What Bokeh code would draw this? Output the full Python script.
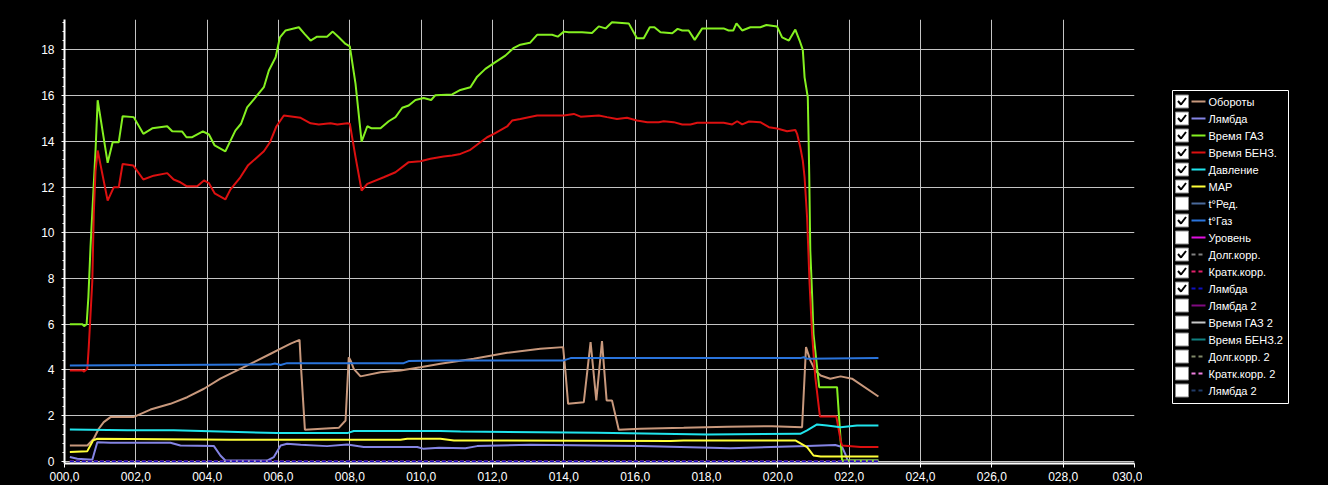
from bokeh.plotting import figure
from bokeh.layouts import row
from bokeh.models import Range1d, FixedTicker, SingleIntervalTicker, ColumnDataSource
from bokeh.core.properties import value
from bokeh.embed import file_html
from bokeh.resources import INLINE

# ---------------- data ----------------
x_ticks = [0, 2, 4, 6, 8, 10, 12, 14, 16, 18, 20, 22, 24, 26, 28, 30]
x_tick_labels = ["000,0", "002,0", "004,0", "006,0", "008,0", "010,0", "012,0", "014,0",
                 "016,0", "018,0", "020,0", "022,0", "024,0", "026,0", "028,0", "030,0"]

# Обороты
rpm_t = [0.15, 0.64, 0.82, 0.96, 1.10, 1.29, 1.93, 2.41, 2.97, 3.44, 3.91, 4.37, 4.84, 5.31,
         5.78, 6.06, 6.34, 6.59, 6.62, 6.74, 7.69, 7.88, 7.97, 8.02, 8.11, 8.30, 8.86, 9.42,
         9.98, 10.54, 11.47, 12.41, 13.34, 13.98, 14.05, 14.12, 14.56, 14.75, 14.91, 15.07,
         15.20, 15.35, 15.54, 16.15, 17.36, 18.58, 19.84, 20.68, 20.79, 20.91, 21.05, 21.20,
         21.47, 21.76, 22.08, 22.82]
rpm_v = [0.70, 0.70, 0.99, 1.43, 1.72, 1.94, 1.94, 2.27, 2.52, 2.81, 3.18, 3.62, 3.98, 4.34,
         4.71, 4.93, 5.15, 5.32, 4.42, 1.39, 1.47, 1.79, 4.56, 4.42, 4.05, 3.72, 3.90, 3.98,
         4.12, 4.27, 4.49, 4.75, 4.93, 5.00, 3.83, 2.52, 2.59, 5.22, 2.67, 5.26,
         2.67, 2.67, 1.39, 1.43, 1.47, 1.52, 1.54, 1.50, 5.00, 4.42, 3.98, 3.76,
         3.62, 3.72, 3.62, 2.84]

# Лямбда
lam_t = [0.15, 0.36, 0.78, 0.92, 1.29, 2.97, 3.25, 4.19, 4.37, 4.51, 5.68, 5.87, 6.06, 6.24,
         6.62, 7.36, 7.93, 8.39, 9.89, 10.07, 10.50, 11.24, 11.57, 13.06, 16.15, 18.67, 20.82,
         21.61, 21.80, 21.89, 21.96, 22.82]
lam_v = [0.19, 0.12, 0.07, 0.84, 0.82, 0.82, 0.70, 0.67, 0.26, 0.04, 0.04, 0.19, 0.70, 0.77,
         0.73, 0.67, 0.74, 0.63, 0.63, 0.55, 0.60, 0.58, 0.67, 0.73, 0.67, 0.58, 0.67,
         0.72, 0.63, 0.33, 0.04, 0.04]

# Время ГАЗ
gas_t = [0.15, 0.50, 0.55, 0.62, 0.67, 0.73, 0.80, 0.87, 0.93, 1.21, 1.35, 1.52, 1.63, 1.94,
         2.21, 2.46, 2.88, 3.02, 3.30, 3.42, 3.58, 3.88, 4.05, 4.21, 4.51, 4.79, 4.95, 5.12,
         5.31, 5.59, 5.73, 5.92, 6.04, 6.20, 6.57, 6.73, 6.90, 7.08, 7.36, 7.52, 7.69, 7.88,
         8.00, 8.16, 8.33, 8.49, 8.61, 8.86, 9.09, 9.28, 9.47, 9.65, 9.84, 10.07, 10.28, 10.40,
         10.87, 11.10, 11.38, 11.57, 11.80, 12.04, 12.36, 12.60, 12.78, 13.05, 13.25, 13.67,
         13.83, 14.00, 14.14, 14.51, 14.79, 14.98, 15.17, 15.35, 15.82, 16.05, 16.24, 16.41,
         16.54, 16.71, 17.04, 17.19, 17.32, 17.50, 17.67, 17.88, 18.48, 18.62, 18.75, 18.84,
         19.00, 19.23, 19.51, 19.68, 19.98, 20.12, 20.31, 20.49, 20.61, 20.70, 20.75, 20.84,
         20.86, 20.88, 20.91, 20.96, 21.00, 21.10, 21.16, 21.66, 21.71, 21.80, 22.82]
gas_v = [6.00, 6.00, 5.92, 6.00, 7.20, 9.40, 11.50, 13.60, 15.80, 13.06, 13.96, 13.96, 15.10, 15.06,
         14.33, 14.57, 14.66, 14.44, 14.43, 14.18, 14.18, 14.44, 14.30, 13.82, 13.56, 14.47, 14.77, 15.49,
         15.84, 16.37, 17.10, 17.68, 18.55, 18.85, 18.99, 18.70, 18.41, 18.58, 18.58, 18.80, 18.55, 18.26,
         18.15, 16.51, 13.99, 14.66, 14.57, 14.57, 14.88, 15.06, 15.47, 15.57, 15.81, 15.90, 15.81, 16.02,
         16.05, 16.25, 16.37, 16.83, 17.17, 17.42, 17.75, 18.09, 18.23, 18.31, 18.66, 18.66,
         18.58, 18.80, 18.77, 18.77, 18.74, 19.03, 18.94, 19.21, 19.16, 18.51, 18.51, 18.99,
         18.99, 18.77, 18.73, 18.92, 18.85, 18.85, 18.44, 18.94, 18.94, 18.85, 18.85, 19.16,
         18.85, 18.99, 18.99, 19.09, 19.02, 18.55, 18.41, 18.89, 18.41, 18.00, 16.80, 15.93,
         14.33, 12.58, 9.23, 7.33, 5.58, 4.12, 3.25, 3.25, 2.08, 0.04, 0.04]

# Время БЕНЗ.
pet_t = [0.15, 0.50, 0.55, 0.64, 0.68, 0.78, 0.82, 0.87, 0.93, 1.21, 1.38, 1.52, 1.63, 1.93,
         2.21, 2.50, 2.88, 3.06, 3.25, 3.42, 3.72, 3.91, 4.05, 4.21, 4.51, 4.65, 4.93, 5.14,
         5.59, 5.76, 5.94, 6.15, 6.62, 6.90, 7.13, 7.32, 7.46, 7.65, 7.93, 8.00, 8.16, 8.33,
         8.49, 8.95, 9.28, 9.65, 9.98, 10.26, 10.63, 10.87, 11.10, 11.38, 11.66, 11.85, 12.04,
         12.41, 12.55, 12.78, 13.25, 14.00, 14.28, 14.47, 14.98, 15.21, 15.49, 15.77, 16.05,
         16.34, 16.66, 16.80, 17.08, 17.32, 17.55, 17.74, 18.48, 18.72, 18.86, 19.00, 19.19,
         19.51, 19.75, 19.98, 20.26, 20.49, 20.54, 20.63, 20.70, 20.75, 20.82, 20.89, 20.96,
         21.05, 21.18, 21.64, 21.76, 21.80, 22.32, 22.82]
pet_v = [3.98, 3.98, 3.93, 4.05, 5.00, 7.90, 10.80, 12.70, 13.60, 11.41, 11.99, 11.99, 13.01, 12.94,
         12.33, 12.50, 12.61, 12.33, 12.21, 12.04, 12.04, 12.29, 12.17, 11.73, 11.46, 11.89, 12.43, 12.94,
         13.57, 13.96, 14.65, 15.13, 15.03, 14.79, 14.74, 14.77, 14.79, 14.74, 14.79, 14.77, 13.31, 11.85,
         12.14, 12.43, 12.65, 13.09, 13.13, 13.24, 13.34, 13.38, 13.45, 13.63, 13.96, 14.18, 14.33,
         14.65, 14.91, 14.98, 15.13, 15.13, 15.20, 15.08, 15.13, 15.06, 14.98, 15.03, 14.91,
         14.84, 14.84, 14.88, 14.84, 14.74, 14.74, 14.81, 14.81, 14.74, 14.88, 14.74, 14.87,
         14.84, 14.62, 14.56, 14.44, 14.50, 14.33, 13.74, 13.16, 12.43, 10.68, 7.77, 5.58,
         3.69, 1.97, 1.97, 0.92, 0.70, 0.63, 0.63]

# Давление
prs_t = [0.15, 1.76, 3.06, 5.12, 5.96, 7.93, 8.11, 10.54, 11.10, 14.93, 18.02, 20.63, 20.82,
         21.10, 21.38, 21.76, 22.22, 22.82]
prs_v = [1.40, 1.36, 1.36, 1.28, 1.24, 1.24, 1.33, 1.33, 1.31, 1.25, 1.18, 1.21, 1.36,
         1.62, 1.57, 1.50, 1.57, 1.57]

# MAP
map_t = [0.15, 0.64, 0.80, 0.92, 4.65, 9.42, 9.61, 10.54, 10.92, 16.99, 17.36, 20.49, 20.82,
         21.00, 21.20, 22.32, 22.82]
map_v = [0.41, 0.45, 0.92, 0.99, 0.95, 0.95, 0.99, 0.99, 0.92, 0.89, 0.92, 0.92, 0.63,
         0.26, 0.22, 0.22, 0.22]

# t°Газ
tg_t = [0.15, 5.78, 5.90, 6.06, 6.24, 9.51, 9.65, 10.54, 14.00, 14.19, 20.63, 20.73, 20.82, 22.82]
tg_v = [4.20, 4.24, 4.28, 4.22, 4.30, 4.30, 4.39, 4.42, 4.42, 4.52, 4.52, 4.56, 4.49, 4.52]

# Долг.корр., Кратк.корр., Лямбда (dashed) - all at zero
zero_t = [0.15, 22.82]
ltft_v = [0.0, 0.0]
stft_v = [0.0, 0.0]
lam2_v = [0.0, 0.0]

legend_labels = ["Обороты", "Лямбда", "Время ГАЗ", "Время БЕНЗ.", "Давление", "MAP", "t°Ред.",
                 "t°Газ", "Уровень", "Долг.корр.", "Кратк.корр.", "Лямбда", "Лямбда 2",
                 "Время ГАЗ 2", "Время БЕНЗ.2", "Долг.корр. 2", "Кратк.корр. 2", "Лямбда 2"]
legend_colors = ["#c8987c", "#8484e4", "#84f020", "#dc1010", "#20e4ec", "#ffff38", "#4a6a9c",
                 "#2a74dc", "#e010e0", "#808080", "#e0206a", "#1010c0", "#800a80",
                 "#c8c8c8", "#108080", "#808868", "#f080e0", "#203a66"]
legend_dashed = [False, False, False, False, False, False, False, False, False,
                 True, True, True, False, False, False, True, True, True]
legend_checked = [True, True, True, True, True, True, False, True, False,
                  True, True, True, False, False, False, False, False, False]

FONT = "Liberation Sans"
TOP, FH = 19, 444

# ---------------- main chart ----------------
p = figure(frame_width=1070, frame_height=FH, output_backend="svg", toolbar_location=None, tools="",
           x_range=Range1d(0, 30), y_range=Range1d(-0.09, 19.33),
           min_border_left=64, min_border_right=8, min_border_top=TOP, min_border_bottom=22,
           background_fill_color="black", border_fill_color="black", outline_line_color=None)

p.xaxis.ticker = FixedTicker(ticks=x_ticks, minor_ticks=[])
p.xaxis.major_label_overrides = {t: lab for t, lab in zip(x_ticks, x_tick_labels)}
p.yaxis.ticker = SingleIntervalTicker(interval=2, num_minor_ticks=5)

for ax in (p.xaxis[0], p.yaxis[0]):
    ax.axis_line_color = "white"
    ax.axis_line_width = 2
    ax.major_tick_line_color = "white"
    ax.major_tick_in = 0
    ax.minor_tick_line_color = "white"
    ax.minor_tick_in = 0
    ax.minor_tick_out = 2
    ax.major_label_text_color = "white"
    ax.major_label_text_font = FONT
    ax.major_label_text_font_size = "12px"
p.xaxis.major_tick_out = 4
p.xaxis.major_label_standoff = 4
p.yaxis.major_tick_out = 3
p.yaxis.major_label_standoff = 7

p.grid.grid_line_color = "#c4c4c4"
p.grid.grid_line_width = 1

p.line(rpm_t, rpm_v, line_color=legend_colors[0], line_width=2)
p.line(lam_t, lam_v, line_color=legend_colors[1], line_width=2)
p.line(gas_t, gas_v, line_color=legend_colors[2], line_width=2)
p.line(pet_t, pet_v, line_color=legend_colors[3], line_width=2)
p.line(prs_t, prs_v, line_color=legend_colors[4], line_width=2)
p.line(map_t, map_v, line_color=legend_colors[5], line_width=2)
p.line(tg_t, tg_v, line_color=legend_colors[7], line_width=2)
p.line(zero_t, ltft_v, line_color=legend_colors[9], line_width=2, line_dash="4 2")
p.line(zero_t, stft_v, line_color=legend_colors[10], line_width=2, line_dash="4 2")
p.line(zero_t, lam2_v, line_color=legend_colors[11], line_width=2, line_dash="4 2")

# ---------------- legend panel (data units = page pixels) ----------------
LW = 186
leg = figure(frame_width=LW, frame_height=FH, output_backend="svg", toolbar_location=None, tools="",
             x_range=Range1d(-2, LW - 2), y_range=Range1d(TOP + FH, TOP),
             min_border=0, min_border_top=TOP, min_border_bottom=22,
             x_axis_location=None, y_axis_location=None,
             background_fill_color="black", border_fill_color="black", outline_line_color=None)
leg.grid.grid_line_color = None

leg.quad(left=[28], right=[144], top=[90], bottom=[403], fill_color=None,
         line_color="white", line_width=1)

n = len(legend_labels)
cy = [101 + 17 * i for i in range(n)]
leg.rect(x=[37.5] * n, y=cy, width=13, height=13, fill_color="white",
         line_color="#8a8a8a", line_width=1)

ck_xs, ck_ys = [], []
for i in range(n):
    if legend_checked[i]:
        ck_xs.append([33.5, 36.5, 41.5])
        ck_ys.append([cy[i] - 0.5, cy[i] + 3, cy[i] - 3.5])
leg.multi_line(ck_xs, ck_ys, line_color="black", line_width=2)

solid = [i for i in range(n) if not legend_dashed[i]]
dashed = [i for i in range(n) if legend_dashed[i]]
leg.segment(x0=[47] * len(solid), x1=[61] * len(solid), y0=[cy[i] for i in solid],
            y1=[cy[i] for i in solid], line_color=[legend_colors[i] for i in solid], line_width=2)
leg.segment(x0=[47] * len(dashed), x1=[61] * len(dashed), y0=[cy[i] for i in dashed],
            y1=[cy[i] for i in dashed], line_color=[legend_colors[i] for i in dashed],
            line_width=2, line_dash="4 3")

src = ColumnDataSource(dict(x=[64] * n, y=cy, t=legend_labels))
leg.text(x="x", y="y", text="t", source=src, text_color="white", text_font=value(FONT),
         text_font_size="11px", text_baseline="middle", text_align="left")

layout = row(p, leg, spacing=0, styles={"background-color": "black"})
open("out.html", "w").write(file_html(layout, INLINE))
